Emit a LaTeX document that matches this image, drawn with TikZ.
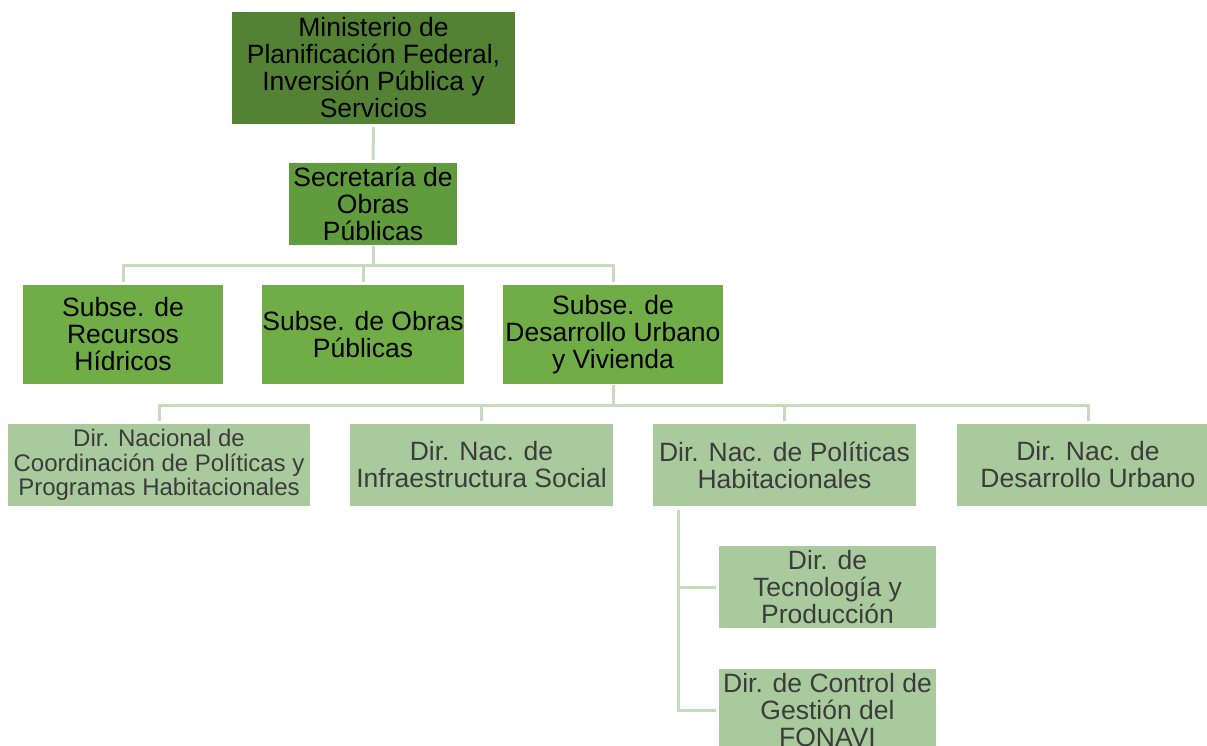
\documentclass[tikz,border=0pt]{standalone}
\usepackage{fontspec}
\setmainfont{Liberation Sans}
\definecolor{cMin}{HTML}{548235}
\definecolor{cSec}{HTML}{609B3D}
\definecolor{cSub}{HTML}{70AD47}
\definecolor{cDir}{HTML}{A9CA9C}
\definecolor{cLine}{HTML}{C5DDBA}
\definecolor{cTxt}{HTML}{3C3C3C}
\begin{document}
\begin{tikzpicture}[x=1pt,y=-1pt,
  box/.style={rectangle, inner sep=0pt, align=center, font=\fontsize{26.5}{27}\selectfont},
  topbox/.style={box, fill=cMin, text=black},
  secbox/.style={box, fill=cSec, text=black},
  subbox/.style={box, fill=cSub, text=black, minimum height=99pt},
  dirbox/.style={box, fill=cDir, text=cTxt, minimum height=82pt},
  conn/.style={draw=cLine, line width=3pt}]
\useasboundingbox (0,0) rectangle (1207,746);
\node[topbox, minimum width=283pt, minimum height=112pt] (min) at (373.5,68) {Ministerio de\\Planificación Federal,\\Inversión Pública y\\Servicios};
\node[secbox, minimum width=168pt, minimum height=82pt] (sec) at (373,204) {Secretaría de\\Obras\\Públicas};
\node[subbox, minimum width=200pt] (s1) at (123,334.5) {Subse. de\\Recursos\\Hídricos};
\node[subbox, minimum width=200pt] (s2) at (363,334.5) {Subse. de Obras\\Públicas};
\node[subbox, minimum width=220pt] (s3) at (613,334.5) {Subse. de\\Desarrollo Urbano\\y Vivienda};
\node[dirbox, minimum width=302pt, font=\fontsize{24}{24.5}\selectfont] (d1) at (159,465) {Dir. Nacional de\\Coordinación de Políticas y\\Programas Habitacionales};
\node[dirbox, minimum width=263pt] (d2) at (481.5,465) {Dir. Nac. de\\Infraestructura Social};
\node[dirbox, minimum width=263pt] (d3) at (784.5,465) {Dir. Nac. de Políticas\\Habitacionales};
\node[dirbox, minimum width=263pt] (d4) at (1088,465) {Dir. Nac. de\\Desarrollo Urbano};
\node[dirbox, minimum width=217pt] (t1) at (827.5,587) {Dir. de\\Tecnología y\\Producción};
\node[dirbox, minimum width=217pt] (t2) at (827.5,710) {Dir. de Control de\\Gestión del\\FONAVI};
\coordinate (b1) at (373,265);
\coordinate (b2) at (613,405);
\coordinate (v) at (678,510);
% connectors
\draw[conn, shorten <=3pt, shorten >=3pt] (min.south) -- (sec.north);
\draw[conn, shorten <=1pt] (sec.south) -- (b1);
\draw[conn, shorten <=3pt, shorten >=3pt] (s1.north) |- (b1) -| (s3.north);
\draw[conn, shorten >=3pt] (b1 -| s2.north) -- (s2.north);
\draw[conn, shorten <=1pt] (s3.south) -- (b2);
\draw[conn, shorten <=3pt, shorten >=3pt] (d1.north) |- (b2) -| (d4.north);
\draw[conn, shorten >=3pt] (b2 -| d2.north) -- (d2.north);
\draw[conn, shorten >=3pt] (b2 -| d3.north) -- (d3.north);
\draw[conn, shorten >=3pt] (v) |- (t2.west);
\draw[conn, shorten >=3pt] (v |- t1.west) -- (t1.west);
\end{tikzpicture}
\end{document}
